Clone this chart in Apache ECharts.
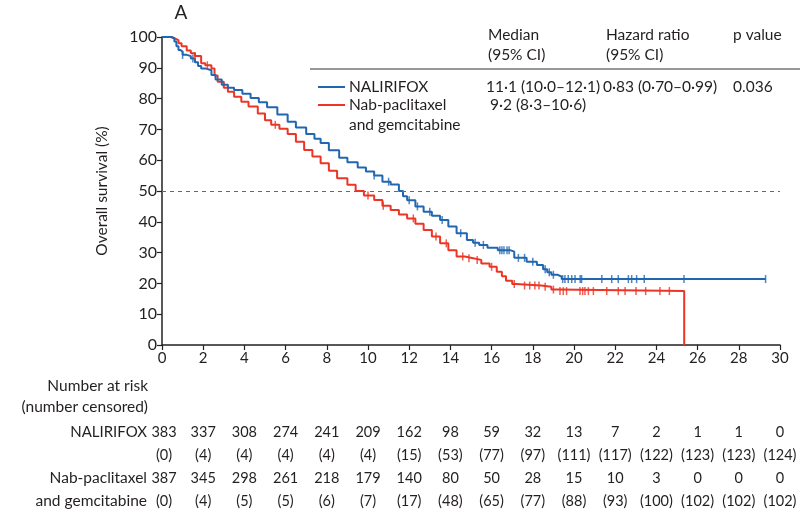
<!DOCTYPE html>
<html>
<head>
<meta charset="utf-8">
<script src="https://cdn.jsdelivr.net/npm/echarts@6/dist/echarts.min.js"></script>
<style>
html,body{margin:0;padding:0;background:#fff;}
#c{width:800px;height:530px;}
</style>
</head>
<body>
<div id="c"></div>
<script>
// ---- Data ----
const months = [0,2,4,6,8,10,12,14,16,18,20,22,24,26,28,30];
const riskNal = [383,337,308,274,241,209,162,98,59,32,13,7,2,1,1,0];
const censNal = [0,4,4,4,4,4,15,53,77,97,111,117,122,123,123,124];
const riskNab = [387,345,298,261,218,179,140,80,50,28,15,10,3,0,0,0];
const censNab = [0,4,5,5,6,7,17,48,65,77,88,93,100,102,102,102];

const curveNal = [[0,100],[0.2,100],[0.45,99.6],[0.6,98.5],[0.7,97],[0.8,95.8],[0.9,95.2],[1.0,94.2],[1.2,93.8],[1.4,93],[1.6,91.8],[1.75,90.6],[1.9,89.8],[2.1,89.2],[2.4,87.7],[2.6,86.2],[2.9,84.5],[3.2,83.5],[3.5,82.8],[3.9,81.6],[4.3,80.2],[4.7,78.8],[5.1,77.2],[5.6,74.8],[6.1,72.5],[6.5,70.6],[7.0,68.5],[7.4,67],[7.7,65.6],[8.1,63.2],[8.6,60.8],[9.0,59.3],[9.5,57.6],[9.9,56.3],[10.3,55.0],[10.7,53.0],[11.1,52.1],[11.5,50.0],[11.7,48.3],[11.9,47.0],[12.3,45.0],[12.7,43.3],[13.1,42.0],[13.5,40.6],[13.9,38.5],[14.3,36.3],[14.8,34.1],[15.1,33.2],[15.4,32.5],[15.8,31.6],[16.3,30.8],[16.9,30.3],[17.1,28.3],[17.7,27],[18.2,26],[18.5,24.6],[18.7,23.6],[18.9,22.8],[19.2,22.2],[19.4,21.4],[29.3,21.4]];
const curveNab = [[0,100],[0.3,100],[0.45,99.6],[0.6,99],[0.8,98],[0.95,97],[1.2,95.6],[1.4,94.7],[1.6,93.8],[1.9,91.5],[2.1,90.8],[2.4,89.8],[2.55,87.5],[2.7,85.5],[3.0,83.5],[3.2,82.2],[3.5,80.6],[3.85,79],[4.2,77.4],[4.65,75.2],[5.0,73],[5.3,71.5],[5.7,70.2],[6.1,68.5],[6.5,66],[6.9,63.3],[7.3,61.2],[7.7,59],[8.1,56.6],[8.5,54.1],[9.0,52],[9.4,50],[9.8,48.5],[10.3,47.1],[10.7,45.2],[11.1,43.8],[11.5,42.4],[11.9,41.1],[12.3,39.4],[12.7,37.3],[13.1,35.2],[13.5,33],[13.9,30.8],[14.3,28.7],[14.7,28.2],[15.1,27.6],[15.5,26.5],[15.9,25.4],[16.25,23.8],[16.5,22.3],[16.7,20.9],[17.0,19.8],[17.2,19.3],[18.4,18.9],[18.9,18.0],[19.2,17.5],[25.35,0]];

const censorTimesNal = [1.0,1.5,10.3,11.0,12.0,12.4,13.0,13.6,14.5,15.2,15.6,16.4,16.5,16.6,16.75,16.85,17.3,17.6,18.0,18.6,18.8,19.0,19.45,19.56,19.72,19.89,20.05,20.3,20.37,21.35,21.83,22.15,22.64,22.8,23.04,23.41,25.34,29.3];
const censorTimesNab = [1.6,2.2,5.5,10.0,10.74,12.2,13.3,13.8,14.6,14.9,15.3,16.0,17.1,17.6,17.85,18.1,18.3,18.6,19.0,19.32,19.48,19.64,20.29,20.42,20.53,20.7,20.94,21.59,22.15,22.48,23.01,23.48,24.17,24.63];

// ---- Helpers ----
function survAt(curve, t){ let s = curve[0][1]; for (const p of curve){ if (p[0] <= t) s = p[1]; } return s; }
const BLUE = '#2166b0', RED = '#ec3525';
const FONT = 'Lato';
const TXT = '#231f20';

const chart = echarts.init(document.getElementById('c'), null, {renderer:'canvas'});
const option = {
  animation:false,
  backgroundColor:'#fff',
  grid:{left:162,right:20,top:37,bottom:185},
  xAxis:{type:'value',min:0,max:30,interval:2,
    axisLine:{lineStyle:{color:'#222',width:1.5}},
    axisTick:{length:5,lineStyle:{color:'#222',width:1.2}},
    axisLabel:{color:TXT,fontFamily:FONT,fontSize:15,margin:6},
    splitLine:{show:false}},
  yAxis:{type:'value',min:0,max:100,interval:10,
    name:'Overall survival (%)',nameLocation:'middle',nameGap:52,
    nameTextStyle:{color:TXT,fontFamily:FONT,fontSize:15.5},
    axisLine:{show:true,lineStyle:{color:'#222',width:1.5}},
    axisTick:{show:true,length:5,lineStyle:{color:'#222',width:1.2}},
    axisLabel:{color:TXT,fontFamily:FONT,fontSize:16,margin:5},
    splitLine:{show:false}},
  series:[
    {type:'line',name:'NALIRIFOX',data:curveNal,step:'end',showSymbol:false,
     lineStyle:{color:BLUE,width:2},itemStyle:{color:BLUE},z:3,
     markLine:{silent:true,symbol:'none',label:{show:false},
       lineStyle:{color:'#4f6f86',type:[4,4],width:1},
       data:[{yAxis:50}]}},
    {type:'line',name:'Nab',data:curveNab,step:'end',showSymbol:false,
     lineStyle:{color:RED,width:2},itemStyle:{color:RED},z:2},
    {type:'scatter',data:censorTimesNal.map(t=>[t,survAt(curveNal,t)]),
     symbol:'rect',symbolSize:[1.5,8],itemStyle:{color:BLUE},z:4},
    {type:'scatter',data:censorTimesNab.map(t=>[t,survAt(curveNab,t)]),
     symbol:'rect',symbolSize:[1.5,8],itemStyle:{color:RED},z:4}
  ]
};
chart.setOption(option);

// ---- Text overlay (header table, legend, risk table) ----
const g = [];
function txt(x,y,s,align,size){
  g.push({type:'text',x:x,y:y,style:{text:s,fill:TXT,font:'normal '+(size||15)+'px '+FONT,align:align||'left',verticalAlign:'middle'}});
}
txt(181,13,'A','center',19);
txt(488,35,'Median',null,15.5); txt(488,55,'(95% CI)',null,15.5);
txt(606,35,'Hazard ratio',null,15.5); txt(606,55,'(95% CI)',null,15.5);
txt(733,35,'p value',null,15.5);
g.push({type:'line',shape:{x1:310,y1:69,x2:800,y2:69},style:{stroke:'#333',lineWidth:1.2}});
g.push({type:'line',shape:{x1:318,y1:87,x2:345,y2:87},style:{stroke:BLUE,lineWidth:2}});
g.push({type:'line',shape:{x1:318,y1:105,x2:345,y2:105},style:{stroke:RED,lineWidth:2}});
txt(349,87,'NALIRIFOX',null,15.5); txt(349,105,'Nab-paclitaxel',null,15.5); txt(349,125,'and gemcitabine',null,15.5);
txt(486,87,'11·1 (10·0–12·1)',null,15.5); txt(603,87,'0·83 (0·70–0·99)',null,15.5); txt(733,87,'0.036',null,15.5);
txt(490,105,'9·2 (8·3–10·6)',null,15.5);

txt(148,386,'Number at risk','right',15.5);
txt(148,407,'(number censored)','right',15.5);
txt(147,432,'NALIRIFOX','right',15);
txt(147,478,'Nab-paclitaxel','right',15.5);
txt(147,501,'and gemcitabine','right',15.5);
months.forEach((m,i)=>{
  const x = chart.convertToPixel({xAxisIndex:0},m) + (i===0 ? 2 : 0);
  txt(x,432,String(riskNal[i]),'center',14.5);
  txt(x,455,'('+censNal[i]+')','center',14.5);
  txt(x,478,String(riskNab[i]),'center',14.5);
  txt(x,501,'('+censNab[i]+')','center',14.5);
});
chart.setOption({graphic:g});
</script>
</body>
</html>
